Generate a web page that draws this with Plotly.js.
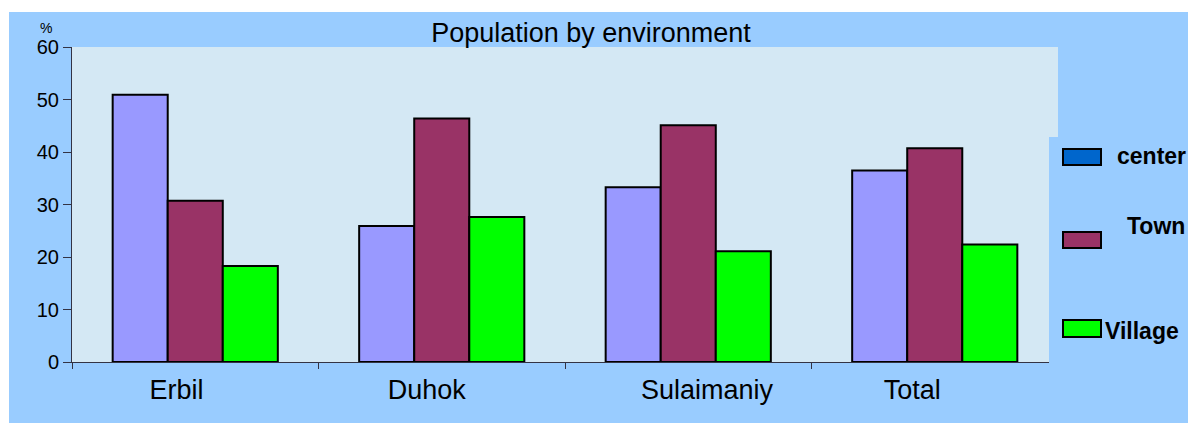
<!DOCTYPE html>
<html>
<head>
<meta charset="utf-8">
<script src="https://cdn.plot.ly/plotly-3.0.1.min.js"></script>
<style>
  html, body { margin: 0; padding: 0; background: #ffffff; width: 1188px; height: 423px; overflow: hidden; }
  #chart { position: absolute; left: 9px; top: 12px; width: 1179px; height: 411px; }
</style>
</head>
<body>
<div id="chart"></div>
<script>
const NB = '\u00A0';
const categories = ['Erbil', 'Duhok', 'Sulaimaniy', 'Total'];
const tickLabels = ['Erbil' + NB.repeat(5), 'Duhok' + NB.repeat(4), NB.repeat(5) + 'Sulaimaniy', 'Total' + NB.repeat(6)];
const seriesNames = ['center', 'Town', 'Village'];
const centerValues = [50.9, 25.9, 33.3, 36.5];
const townValues = [30.7, 46.4, 45.1, 40.7];
const villageValues = [18.3, 27.6, 21.1, 22.4];
const yTicks = [0, 10, 20, 30, 40, 50, 60];
const titleText = 'Population by environment';
const unitText = '%';

const barColors = ['#9999FF', '#993366', '#00FF00'];
const legendColors = ['#0066CC', '#993366', '#00FF00'];

// page-pixel -> paper helpers (plot area 72..1058 x, 47..362 y on the page)
const px = x => (x - 72) / 986;
const py = y => (362 - y) / 315;

const seriesValues = [centerValues, townValues, villageValues];
const traces = seriesNames.map((name, i) => ({
  type: 'bar',
  name: name,
  x: categories,
  y: seriesValues[i],
  marker: { color: barColors[i], line: { color: '#000000', width: 2 } },
  showlegend: false,
  hoverinfo: 'x+y+name'
}));

const axisColor = '#333344';
const font = 'Liberation Sans, Arial, sans-serif';

const legendRows = [
  { sw: [149, 165], textX: 1116, textY: 156 },
  { sw: [232, 248], textX: 1126, textY: 226 },
  { sw: [320, 337], textX: 1104, textY: 331 }
];

const shapes = [
  { type: 'rect', xref: 'paper', yref: 'paper', layer: 'above',
    x0: px(1049), x1: px(1200), y0: py(137), y1: py(400),
    fillcolor: '#99CCFF', line: { width: 0 } }
];
const annotations = [
  { xref: 'paper', yref: 'paper', x: px(46), y: py(28), xanchor: 'center', yanchor: 'middle',
    text: unitText, showarrow: false, font: { family: font, size: 14, color: '#000' } }
];
legendRows.forEach((r, i) => {
  shapes.push({ type: 'rect', xref: 'paper', yref: 'paper', layer: 'above',
    x0: px(1063), x1: px(1101), y0: py(r.sw[1]), y1: py(r.sw[0]),
    fillcolor: legendColors[i], line: { color: '#000000', width: 2 } });
  annotations.push({ xref: 'paper', yref: 'paper', x: px(r.textX), y: py(r.textY),
    xanchor: 'left', yanchor: 'middle', showarrow: false, borderpad: 0,
    text: '<b>' + seriesNames[i] + '</b>', font: { family: font, size: 23, color: '#000' } });
});

const layout = {
  width: 1179, height: 411,
  margin: { l: 63, r: 130, t: 35, b: 61, pad: 0 },
  paper_bgcolor: '#99CCFF',
  plot_bgcolor: '#D4E8F4',
  barmode: 'group',
  bargap: 0.33,
  bargroupgap: 0,
  showlegend: false,
  title: { text: titleText, xref: 'container', x: (591 - 9) / 1179, xanchor: 'center',
           yref: 'container', y: 1 - 11 / 411, yanchor: 'top',
           font: { family: font, size: 27, color: '#000' } },
  xaxis: {
    type: 'category',
    tickvals: categories, ticktext: tickLabels,
    showline: true, linecolor: axisColor, linewidth: 1,
    ticks: 'outside', tickson: 'boundaries', ticklen: 6, tickcolor: axisColor, tickwidth: 1,
    ticklabelstandoff: 4,
    showgrid: false, zeroline: false,
    tickfont: { family: font, size: 27, color: '#000' }
  },
  yaxis: {
    range: [0, 60], tickvals: yTicks, ticktext: yTicks.map(String),
    showline: true, linecolor: axisColor, linewidth: 1,
    ticks: 'outside', ticklen: 8, tickcolor: axisColor, tickwidth: 1,
    showgrid: false, zeroline: false,
    tickfont: { family: font, size: 20, color: '#000' }
  },
  shapes: shapes,
  annotations: annotations,
  font: { family: font }
};

Plotly.newPlot('chart', traces, layout, { displayModeBar: false, staticPlot: true });
</script>
</body>
</html>
